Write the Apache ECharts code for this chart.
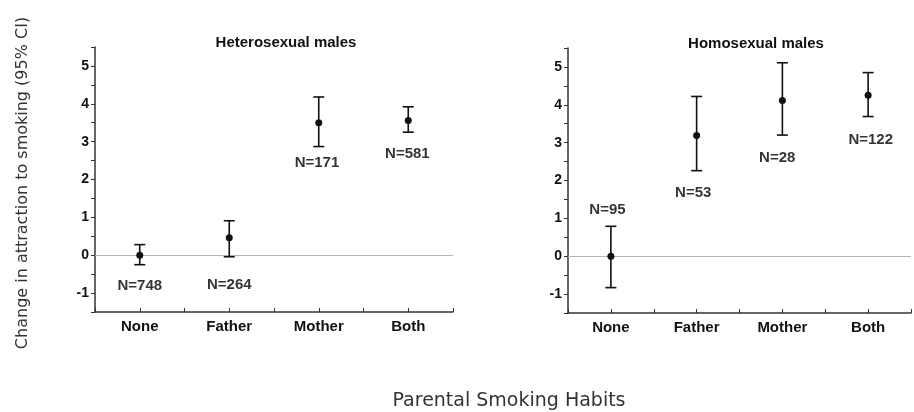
<!DOCTYPE html>
<html>
<head>
<meta charset="utf-8">
<script src="https://cdn.jsdelivr.net/npm/echarts@6/dist/echarts.min.js"></script>
<style>
  html, body { margin: 0; padding: 0; background: #fff; }
  #chart { width: 914px; height: 412px; }
</style>
</head>
<body>
<div id="chart"></div>
<script>
// categories (x positions 1..4)
const categories = ["None", "Father", "Mother", "Both"];

// heterosexual males: mean, lower / upper 95% CI
const heteroMean = [0, 0.46, 3.5, 3.56];
const heteroLow = [-0.25, -0.04, 2.87, 3.25];
const heteroHigh = [0.28, 0.91, 4.18, 3.92];
const heteroN = ["N=748", "N=264", "N=171", "N=581"];
const heteroNY = [-0.82, -0.78, 2.43, 2.67];
const heteroNX = [1, 2, 2.98, 3.99];

// homosexual males
const homoMean = [0, 3.19, 4.11, 4.25];
const homoLow = [-0.83, 2.26, 3.2, 3.69];
const homoHigh = [0.79, 4.22, 5.11, 4.85];
const homoN = ["N=95", "N=53", "N=28", "N=122"];
const homoNY = [1.23, 1.67, 2.59, 3.08];
const homoNX = [0.96, 1.96, 2.94, 4.03];

const ink = "#111";
const boldFont = "Liberation Sans";

function renderErr(params, api) {
  const x = api.value(0);
  const lo = api.coord([x, api.value(1)]);
  const hi = api.coord([x, api.value(2)]);
  const w = 5.5;
  const st = { stroke: ink, lineWidth: 1.6 };
  return {
    type: "group",
    children: [
      { type: "line", shape: { x1: hi[0], y1: hi[1], x2: lo[0], y2: lo[1] }, style: st },
      { type: "line", shape: { x1: hi[0] - w, y1: hi[1], x2: hi[0] + w, y2: hi[1] }, style: st },
      { type: "line", shape: { x1: lo[0] - w, y1: lo[1], x2: lo[0] + w, y2: lo[1] }, style: st }
    ]
  };
}

function xAxisFor(idx) {
  return {
    type: "value",
    gridIndex: idx,
    min: 0.5,
    max: 4.5,
    interval: 0.5,
    splitLine: { show: false },
    axisLine: { onZero: false, lineStyle: { color: "#333", width: 1.5 } },
    axisTick: { inside: true, length: 4, lineStyle: { color: "#333", width: 1 } },
    axisLabel: {
      color: ink,
      fontFamily: boldFont,
      fontWeight: "bold",
      fontSize: 15,
      margin: 7,
      formatter: function (v) {
        return Number.isInteger(v) ? categories[v - 1] : "";
      }
    }
  };
}

function yAxisFor(idx) {
  return {
    type: "value",
    gridIndex: idx,
    min: -1.5,
    max: 5.5,
    interval: 0.5,
    splitLine: { show: false },
    axisLine: { show: true, onZero: false, lineStyle: { color: "#333", width: 1.5 } },
    axisTick: { show: true, length: 4, lineStyle: { color: "#333", width: 1 } },
    axisLabel: {
      color: ink,
      fontFamily: boldFont,
      fontWeight: "bold",
      fontSize: 14,
      margin: 6,
      formatter: function (v) {
        return Number.isInteger(v) ? String(v) : "";
      }
    }
  };
}

function panelSeries(idx, mean, low, high, nText, nX, nY) {
  return [
    {
      // zero reference line, kept underneath everything else
      type: "scatter",
      xAxisIndex: idx,
      yAxisIndex: idx,
      data: [],
      z: 1,
      markLine: {
        silent: true,
        z: 1,
        symbol: "none",
        label: { show: false },
        lineStyle: { color: "#b5b5b5", width: 1, type: "solid" },
        data: [{ yAxis: 0 }]
      }
    },
    {
      type: "custom",
      xAxisIndex: idx,
      yAxisIndex: idx,
      renderItem: renderErr,
      data: mean.map((m, i) => [i + 1, low[i], high[i]]),
      z: 3
    },
    {
      type: "scatter",
      xAxisIndex: idx,
      yAxisIndex: idx,
      symbolSize: 7,
      itemStyle: { color: ink, opacity: 1 },
      data: mean.map((m, i) => [i + 1, m]),
      z: 6
    },
    {
      type: "scatter",
      xAxisIndex: idx,
      yAxisIndex: idx,
      symbolSize: 0,
      data: nText.map((t, i) => [nX[i], nY[i], t]),
      label: {
        show: true,
        position: "inside",
        color: "#000",
        fontFamily: boldFont,
        fontWeight: "bold",
        fontSize: 15,
        formatter: function (p) { return p.value[2]; }
      }
    }
  ];
}

const chart = echarts.init(document.getElementById("chart"));
chart.setOption({
  animation: false,
  backgroundColor: "#fff",
  title: [
    {
      text: "Heterosexual males",
      left: 281, top: 30, textAlign: "center",
      textStyle: { fontFamily: boldFont, fontWeight: "bold", fontSize: 15, color: ink }
    },
    {
      text: "Homosexual males",
      left: 751, top: 31, textAlign: "center",
      textStyle: { fontFamily: boldFont, fontWeight: "bold", fontSize: 15, color: ink }
    }
  ],
  grid: [
    { left: 95, top: 47, width: 358, height: 265 },
    { left: 568, top: 48, width: 359, height: 265 }
  ],
  xAxis: [xAxisFor(0), xAxisFor(1)],
  yAxis: [yAxisFor(0), yAxisFor(1)],
  graphic: [
    {
      type: "text",
      x: 23, y: 183,
      rotation: Math.PI / 2,
      style: {
        text: "Change in attraction to smoking (95% CI)",
        fontFamily: "DejaVu Sans",
        fontSize: 16,
        fill: "#333",
        align: "center",
        verticalAlign: "middle"
      }
    },
    {
      type: "text",
      x: 509, y: 401,
      style: {
        text: "Parental Smoking Habits",
        fontFamily: "DejaVu Sans",
        fontSize: 19,
        fill: "#333",
        align: "center",
        verticalAlign: "middle"
      }
    }
  ],
  series: [
    ...panelSeries(0, heteroMean, heteroLow, heteroHigh, heteroN, heteroNX, heteroNY),
    ...panelSeries(1, homoMean, homoLow, homoHigh, homoN, homoNX, homoNY)
  ]
});
</script>
</body>
</html>
